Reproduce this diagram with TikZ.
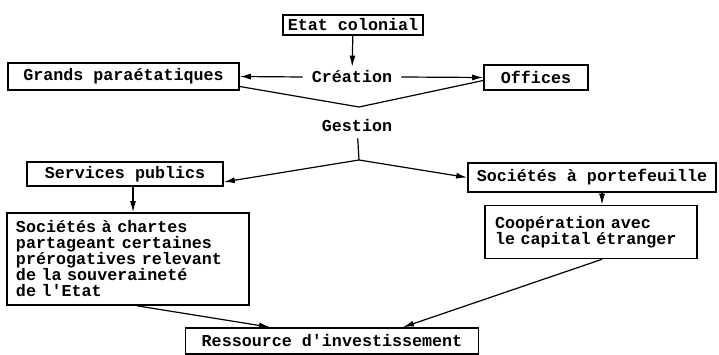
\documentclass[tikz,border=0pt]{standalone}
\usepackage{fontspec}
\setmainfont{Liberation Mono}
\usetikzlibrary{arrows.meta}
\definecolor{black}{RGB}{0,0,0}
\definecolor{white}{RGB}{255,255,255}
\tikzset{
	box/.style={rectangle,draw=black,line width=1.6pt,inner sep=0pt,font=\fontsize{16.7}{16}\selectfont\bfseries},
	lbl/.style={inner sep=0pt,font=\fontsize{16.7}{16}\selectfont\bfseries},
	arr/.style={black,line width=1.2pt,-{Latex[length=11pt,width=6pt]}}
}

\begin{document}
\begin{tikzpicture}[x=1pt,y=-1pt]
	\useasboundingbox[fill=white] (0,0) rectangle (719,355);
	\node[box,minimum width=140,minimum height=20] (etat) at (353,25) {Etat colonial};
	\node[lbl,inner xsep=9pt,inner ysep=4pt] (creation) at (352,77) {Création};
	\node[box,minimum width=231,minimum height=27] (grands) at (123.5,76.5) {Grands paraétatiques};
	\node[box,minimum width=104,minimum height=25] (offices) at (536,77.5) {Offices};
	\node[lbl,inner ysep=6pt] (gestion) at (357,126) {Gestion};
	\node[box,minimum width=196,minimum height=24] (services) at (125,174) {Services publics};
	\node[box,minimum width=248,minimum height=29] (societes) at (592,177.5) {Sociétés à portefeuille};
	\node[box,align=left,text width=224,inner xsep=9pt,minimum height=92] (chartes) at (128,259)
		{Sociétés à chartes\\partageant certaines\\prérogatives relevant\\de la souveraineté\\de l\textquotesingle Etat};
	\node[box,align=left,text width=192,inner xsep=10pt,minimum height=53] (coop) at (591,232)
		{Coopération avec\\le capital étranger};
	\node[box,minimum width=293,minimum height=26] (ressource) at (332,341) {Ressource d\textquotesingle investissement};
	\coordinate (vee) at (359,107);
	\coordinate (fork) at (359,160);

	\draw[arr] (etat) -- (creation);
	\foreach \x/\y in {creation.west/grands.east,creation.east/offices.west,fork/societes.west}
		\draw[arr] (\x) -- (\y);
	\draw[black,line width=1.2pt] ([yshift=-10pt]grands.east) -- (vee) -- ([yshift=-3pt]offices.west);
	\draw[black,line width=1.2pt] (gestion) -- (fork);
	\draw[arr] (fork) -- ([yshift=-8pt]services.east);
	\draw[arr] ([xshift=8pt]services.south) -- ([xshift=8pt]services.south |- chartes.north);
	\draw[arr] ([xshift=10pt]societes.south) -- ([xshift=10pt]societes.south |- coop.north);
	\draw[arr] ([xshift=9pt]chartes.south) -- ([xshift=-62pt]ressource.north);
	\draw[arr] ([xshift=11pt]coop.south) -- ([xshift=71pt]ressource.north);
\end{tikzpicture}
\end{document}
